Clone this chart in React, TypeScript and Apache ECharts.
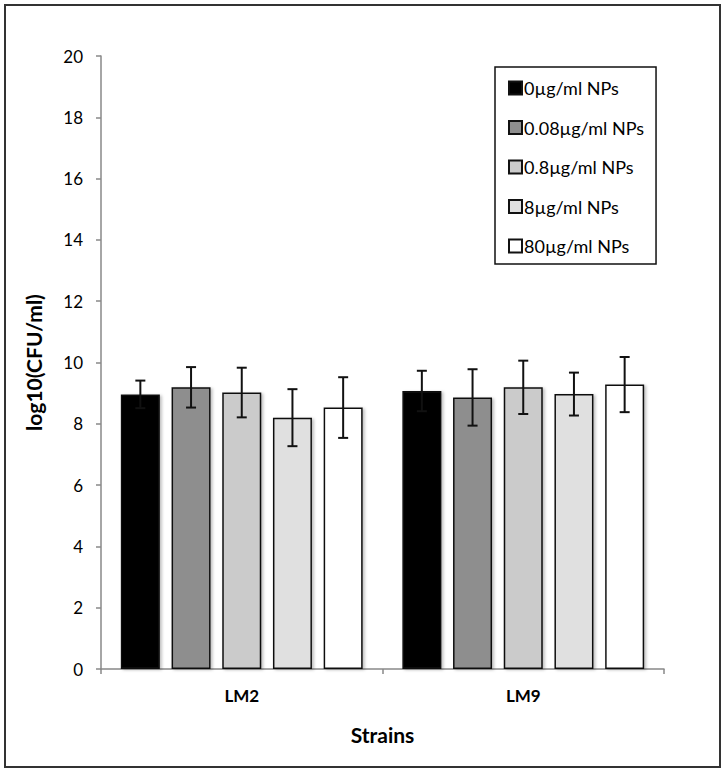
import React, { useEffect, useRef } from "react";
import * as echarts from "echarts";

const categories = ["LM2", "LM9"];
const seriesNames = ["0µg/ml NPs", "0.08µg/ml NPs", "0.8µg/ml NPs", "8µg/ml NPs", "80µg/ml NPs"];
const seriesColors = ["#000000", "#8e8e8e", "#cbcbcb", "#e0e0e0", "#ffffff"];
const means0 = [8.96, 9.07];
const means008 = [9.19, 8.86];
const means08 = [9.02, 9.19];
const means8 = [8.2, 8.97];
const means80 = [8.53, 9.28];
const err0 = [0.45, 0.66];
const err008 = [0.66, 0.92];
const err08 = [0.81, 0.87];
const err8 = [0.93, 0.7];
const err80 = [0.99, 0.9];
const yTicks = [0, 2, 4, 6, 8, 10, 12, 14, 16, 18, 20];

const allMeans = [means0, means008, means08, means8, means80];
const allErrs = [err0, err008, err08, err8, err80];

const FONT = "Lato";
const BAR_W = 39;
const BAR_GAP = 0.3;

export default function App() {
  const ref = useRef<HTMLDivElement>(null);
  useEffect(() => {
    document.body.style.margin = "0";
    const chart = echarts.init(ref.current!, null, { renderer: "svg" });
    const step = BAR_W * (1 + BAR_GAP);
    const n = seriesNames.length;

    const barSeries = seriesNames.map((name, i) => ({
      name,
      type: "bar",
      data: allMeans[i],
      barWidth: BAR_W,
      barGap: `${BAR_GAP * 100}%`,
      itemStyle: {
        color: seriesColors[i],
        borderColor: "#111",
        borderWidth: 1.5,
        shadowColor: "rgba(0,0,0,0.25)",
        shadowBlur: 3,
        shadowOffsetX: 2,
        shadowOffsetY: 1,
      },
      z: 2,
    }));

    const errSeries = seriesNames.map((name, i) => ({
      name,
      type: "custom",
      z: 5,
      silent: true,
      data: allMeans[i].map((m, c) => [c, m - allErrs[i][c], m + allErrs[i][c]]),
      renderItem: (params: any, api: any) => {
        const c = api.value(0);
        const lo = api.coord([c, api.value(1)]);
        const hi = api.coord([c, api.value(2)]);
        const x = lo[0] + (i - (n - 1) / 2) * step;
        const cap = 5;
        const style = { stroke: "#111", lineWidth: 2 };
        return {
          type: "group",
          children: [
            { type: "line", shape: { x1: x, y1: lo[1], x2: x, y2: hi[1] }, style },
            { type: "line", shape: { x1: x - cap, y1: lo[1], x2: x + cap, y2: lo[1] }, style },
            { type: "line", shape: { x1: x - cap, y1: hi[1], x2: x + cap, y2: hi[1] }, style },
          ],
        };
      },
    }));

    chart.setOption({
      animation: false,
      backgroundColor: "#ffffff",
      textStyle: { fontFamily: FONT },
      grid: { left: 101, right: 61, top: 56, bottom: 103, containLabel: false },
      graphic: [
        {
          type: "rect",
          shape: { x: 5, y: 5, width: 715, height: 762 },
          style: { fill: "none", stroke: "#333", lineWidth: 2 },
          silent: true,
        },
      ],
      legend: {
        orient: "vertical",
        left: 495,
        top: 67,
        data: seriesNames,
        itemWidth: 13,
        itemHeight: 13,
        itemGap: 19.5,
        icon: "rect",
        padding: [11, 12, 8, 13],
        borderColor: "#111",
        borderWidth: 1.5,
        textStyle: { fontFamily: FONT, fontSize: 18, color: "#000", lineHeight: 20, padding: [0, 0, 0, -3] },
      },
      xAxis: {
        type: "category",
        data: categories,
        name: "Strains",
        nameLocation: "middle",
        nameGap: 55,
        nameTextStyle: { fontFamily: FONT, fontSize: 21, fontWeight: "bold", color: "#000" },
        axisLine: { lineStyle: { color: "#888", width: 1.5 } },
        axisTick: { show: true, length: 5, lineStyle: { color: "#888", width: 1.5 } },
        axisLabel: { fontFamily: FONT, fontSize: 17, fontWeight: "bold", color: "#000", margin: 18 },
      },
      yAxis: {
        type: "value",
        min: yTicks[0],
        max: yTicks[yTicks.length - 1],
        interval: yTicks[1] - yTicks[0],
        name: "log10(CFU/ml)",
        nameLocation: "middle",
        nameGap: 57,
        nameRotate: 90,
        nameTextStyle: { fontFamily: FONT, fontSize: 21, fontWeight: "bold", color: "#000" },
        axisLine: { show: true, lineStyle: { color: "#888", width: 1.5 } },
        axisTick: { show: true, length: 5, lineStyle: { color: "#888", width: 1.5 } },
        splitLine: { show: false },
        axisLabel: { fontFamily: FONT, fontSize: 17, color: "#000", margin: 18 },
      },
      series: [...barSeries, ...errSeries],
    });
    return () => chart.dispose();
  }, []);
  return <div ref={ref} style={{ width: 725, height: 772 }} />;
}
